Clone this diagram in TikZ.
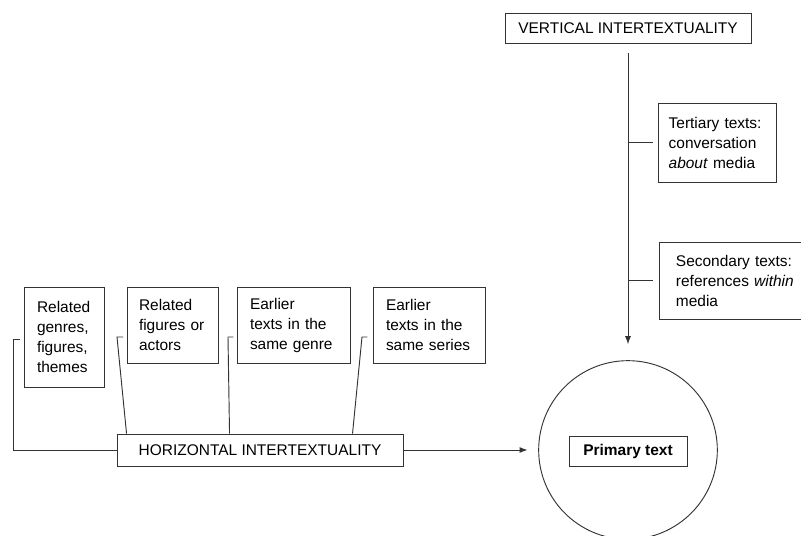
\documentclass[tikz,border=0pt]{standalone}
\usepackage{fontspec}
\setmainfont{Liberation Sans}
\usetikzlibrary{arrows.meta, positioning}
\definecolor{linegray}{HTML}{333333}

\begin{document}
\begin{tikzpicture}[x=0.75pt, y=-0.75pt, line width=0.7pt,
  textbox/.style={rectangle, draw=linegray, align=left, inner xsep=9.75pt, inner ysep=0pt, font=\fontsize{11.6}{15}\selectfont},
  labelbox/.style={rectangle, draw=linegray, inner sep=0pt, font=\fontsize{11.6}{15}\selectfont},
  link/.style={draw=linegray},
  arrowlink/.style={draw=linegray, -{Latex[length=6pt,width=4.5pt]}}]
\useasboundingbox (0,0) rectangle (801,536);

% Vertical axis
\node[labelbox, minimum width=184.5pt, minimum height=22.5pt] (vertical) at (628,28) {VERTICAL INTERTEXTUALITY};
\node[textbox, inner xsep=8pt, text width=72.5pt, minimum height=59.25pt] (tertiary) at (717,142.5) {Tertiary texts:\\conversation\\\textit{about} media};
\node[textbox, inner xsep=12.75pt, text width=95pt, minimum height=57.75pt] (secondary) at (739.3,280.5) {Secondary texts:\\references \textit{within}\\media};

% Primary text
\node[circle, draw=linegray, minimum size=134pt, inner sep=0pt] (primarycircle) at (628,450) {};
\node[labelbox, font=\fontsize{11.6}{15}\selectfont\bfseries, minimum width=88.5pt, minimum height=22.5pt] (primary) at (628,451) {Primary text};

% Horizontal axis
\node[labelbox, minimum width=214.5pt, minimum height=24pt] (horizontal) at (260,450) {HORIZONTAL INTERTEXTUALITY};
\node[textbox, text width=40.5pt, minimum height=75pt] (genres) at (64,337) {Related\\genres,\\figures,\\themes};
\node[textbox, inner xsep=9pt, text width=50.25pt, minimum height=57pt] (figures) at (172.5,325) {Related\\figures or\\actors};
\node[textbox, text width=65.25pt, minimum height=57pt] (samegenre) at (293.5,325) {Earlier\\texts in the\\same genre};
\node[textbox, text width=64.5pt, minimum height=57pt] (sameseries) at (429,325) {Earlier\\texts in the\\same series};

% Connectors
\draw[arrowlink, shorten <=7.5pt, shorten >=12pt] (vertical.south) -- (primarycircle.north);
\draw[link] ([xshift=-3.75pt]tertiary.west) -- (tertiary.west -| vertical.south);
\draw[link] ([xshift=-4.5pt]secondary.west) -- (secondary.west -| vertical.south);
\draw[arrowlink, shorten >=8pt] (horizontal.east) -- (primarycircle.west);

\coordinate (hookA) at (13,339);
\coordinate (hookB) at (117,337);
\coordinate (hookC) at (228,337);
\coordinate (hookD) at (362,337);
\draw[link] ([xshift=5pt]hookA) -- (hookA) |- (horizontal.west);
\draw[link] ([xshift=4.5pt]hookB) -- (hookB) -- ([xshift=7.5pt]horizontal.north west);
\draw[link] ([xshift=4pt]hookC) -- (hookC) -- ([xshift=84.75pt]horizontal.north west);
\draw[link] ([xshift=4pt]hookD) -- (hookD) -- ([xshift=177pt]horizontal.north west);
\end{tikzpicture}
\end{document}
